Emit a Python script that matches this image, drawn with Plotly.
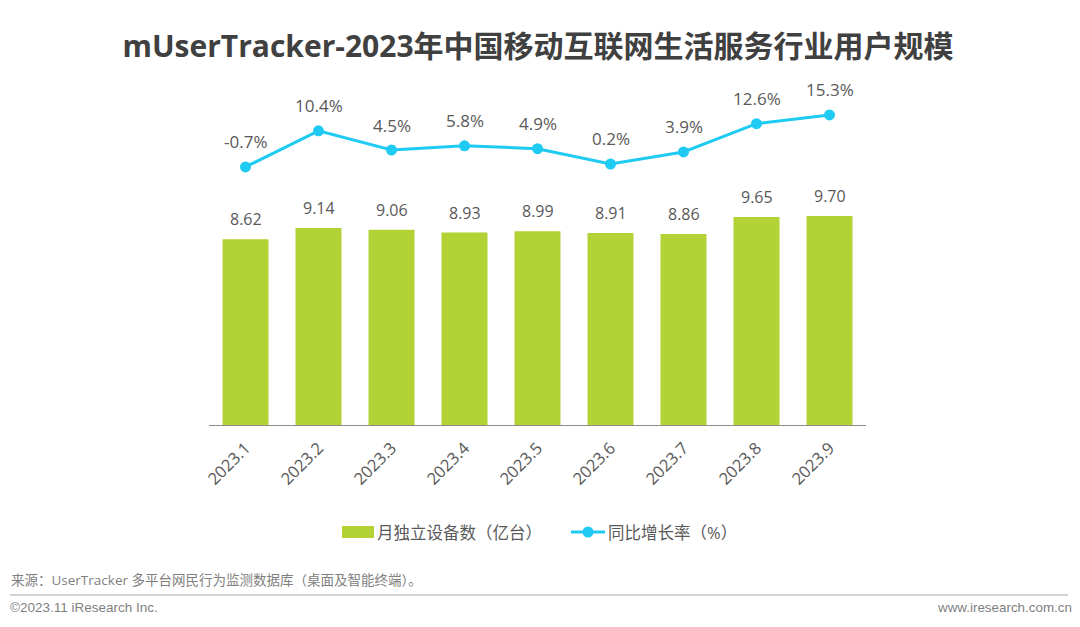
import plotly.graph_objects as go

months = ['2023.1', '2023.2', '2023.3', '2023.4', '2023.5', '2023.6', '2023.7', '2023.8', '2023.9']
devices = [8.62, 9.14, 9.06, 8.93, 8.99, 8.91, 8.86, 9.65, 9.70]
growth = [-0.7, 10.4, 4.5, 5.8, 4.9, 0.2, 3.9, 12.6, 15.3]

W, H = 1080, 627
L, R, T, B = 209, 214, 85, 202  # plot margins in px
FONT = 'Open Sans, Noto Sans CJK SC, sans-serif'
GREEN = '#B2D235'
BLUE = '#1FCBF2'
TEXT = '#595959'


def px(x):
    return (x - L) / (W - L - R)


def py(y):
    return (H - B - y) / (H - T - B)


fig = go.Figure()

fig.add_trace(go.Bar(x=months, y=devices,
                     marker=dict(color=GREEN, line_width=0),
                     width=0.63, showlegend=False))

fig.add_trace(go.Scatter(x=months, y=growth, yaxis='y2', mode='lines+markers',
                         line=dict(color=BLUE, width=3),
                         marker=dict(color=BLUE, size=11),
                         cliponaxis=False, showlegend=False))

# value labels sit further off the marks than textposition allows
# x is the category index: '2023.1' would be read as a number here
for i, v in enumerate(devices):
    fig.add_annotation(x=i, y=v, xref='x', yref='y', text='%.2f' % v, showarrow=False,
                       yanchor='middle', yshift=20, font=dict(size=16, color=TEXT))
for i, v in enumerate(growth):
    fig.add_annotation(x=i, y=v, xref='x', yref='y2', text='%.1f%%' % v, showarrow=False,
                       yanchor='middle', yshift=25, font=dict(size=17, color=TEXT))

# legend drawn by hand, plotly's bar swatch cannot be this wide
fig.add_shape(type='rect', xref='paper', yref='paper',
              x0=px(342), x1=px(374), y0=py(538), y1=py(526),
              fillcolor=GREEN, line_width=0)
fig.add_shape(type='line', xref='paper', yref='paper',
              x0=px(571), x1=px(605), y0=py(532), y1=py(532),
              line=dict(color=BLUE, width=3))
fig.add_shape(type='circle', xref='paper', yref='paper',
              x0=px(582.5), x1=px(593.5), y0=py(537.5), y1=py(526.5),
              fillcolor=BLUE, line_width=0)
fig.add_shape(type='line', xref='paper', yref='paper',
              x0=px(10), x1=px(1068), y0=py(595), y1=py(595),
              line=dict(color='#A6A6A6', width=1))


def label(x, y, s, size, color, anchor='left', family=FONT):
    fig.add_annotation(xref='paper', yref='paper', x=px(x), y=py(y), text=s,
                       showarrow=False, xanchor=anchor, yanchor='middle',
                       font=dict(size=size, color=color, family=family))


label(375, 532, '月独立设备数（亿台）', 16.5, TEXT)
label(606, 532, '同比增长率（%）', 16.5, TEXT)
label(9, 580, '来源：UserTracker 多平台网民行为监测数据库（桌面及智能终端）。', 13.5, '#7F7F7F')
label(8, 607, '©2023.11 iResearch Inc.', 13.5, '#7F7F7F', family='Liberation Sans')
label(1074, 607, 'www.iresearch.com.cn', 13.4, '#7F7F7F', 'right', 'Liberation Sans')

fig.update_layout(
    width=W, height=H,
    margin=dict(l=L, r=R, t=T, b=B),
    paper_bgcolor='white', plot_bgcolor='white',
    font=dict(family=FONT, color=TEXT),
    title=dict(text='<b>mUserTracker-2023年中国移动互联网生活服务行业用户规模</b>',
               x=538 / W, xanchor='center', y=1 - 46 / H, yanchor='middle',
               font=dict(size=30, color='#404040', family=FONT)),
    xaxis=dict(type='category', range=[-0.5, 8.5], tickangle=-45, showline=True,
               linecolor='#8C8C8C', linewidth=1, ticks='', ticklabelstandoff=6,
               tickfont=dict(size=16.5, color=TEXT)),
    yaxis=dict(range=[0, 15.78], visible=False, showgrid=False),
    yaxis2=dict(range=[-80.1, 24.5], overlaying='y', visible=False, showgrid=False),
)

fig.write_html("out.html", config=dict(displayModeBar=False),
               post_script="document.body.style.margin='0';")
